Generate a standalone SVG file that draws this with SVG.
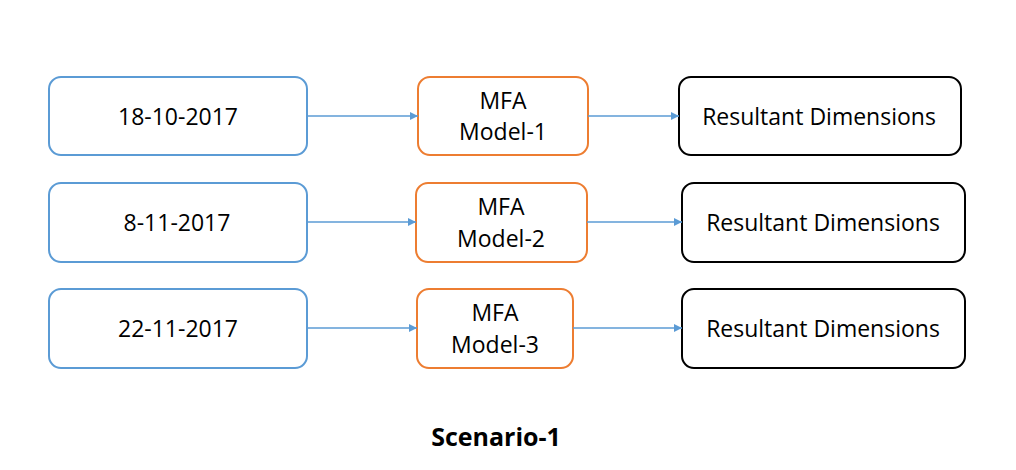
<svg xmlns="http://www.w3.org/2000/svg" width="1016" height="470" viewBox="0 0 1016 470">
<style>
.box{fill:#fff;stroke-width:2}
.date{stroke:#5B9BD5}
.mfa{stroke:#ED7D31}
.res{stroke:#000}
text{font-family:"Open Sans","Liberation Sans",sans-serif;font-size:23px;fill:#000;text-anchor:middle}
.conn{stroke:#5B9BD5;stroke-width:1.5;fill:none;marker-end:url(#ah)}
.title{font-weight:bold;font-size:25px}
</style>
<defs>
<marker id="ah" viewBox="0 0 10 10" refX="10" refY="5" markerWidth="9" markerHeight="8" markerUnits="userSpaceOnUse" orient="auto">
<path d="M0,0 L10,5 L0,10 z" fill="#5B9BD5"/>
</marker>
</defs>
<rect width="1016" height="470" fill="#fff"/>
<g id="date1"><rect class="box date" x="49" y="77" width="258" height="78" rx="12"/><text x="178" y="125">18-10-2017</text></g>
<g id="mfa1"><rect class="box mfa" x="418" y="77" width="170" height="78" rx="12"/><text x="503" y="109">MFA</text><text x="503" y="140">Model-1</text></g>
<g id="res1"><rect class="box res" x="679" y="77" width="282" height="78" rx="12"/><text x="819" y="125">Resultant Dimensions</text></g>
<g id="date2"><rect class="box date" x="49" y="183" width="258" height="79" rx="12"/><text x="177" y="231">8-11-2017</text></g>
<g id="mfa2"><rect class="box mfa" x="416" y="183" width="171" height="79" rx="12"/><text x="501" y="215">MFA</text><text x="501" y="247">Model-2</text></g>
<g id="res2"><rect class="box res" x="682" y="183" width="283" height="79" rx="12"/><text x="823" y="231">Resultant Dimensions</text></g>
<g id="date3"><rect class="box date" x="49" y="289" width="258" height="79" rx="12"/><text x="178" y="337">22-11-2017</text></g>
<g id="mfa3"><rect class="box mfa" x="417" y="289" width="156" height="79" rx="12"/><text x="495" y="321">MFA</text><text x="495" y="353">Model-3</text></g>
<g id="res3"><rect class="box res" x="682" y="289" width="283" height="79" rx="12"/><text x="823" y="337">Resultant Dimensions</text></g>
<g id="connectors">
<line class="conn" x1="307" y1="116" x2="418" y2="116"/>
<line class="conn" x1="588" y1="116" x2="679" y2="116"/>
<line class="conn" x1="307" y1="222" x2="416" y2="222"/>
<line class="conn" x1="587" y1="222" x2="682" y2="222"/>
<line class="conn" x1="307" y1="328" x2="417" y2="328"/>
<line class="conn" x1="573" y1="328" x2="682" y2="328"/>
</g>
<text class="title" x="496" y="446">Scenario-1</text>
</svg>
